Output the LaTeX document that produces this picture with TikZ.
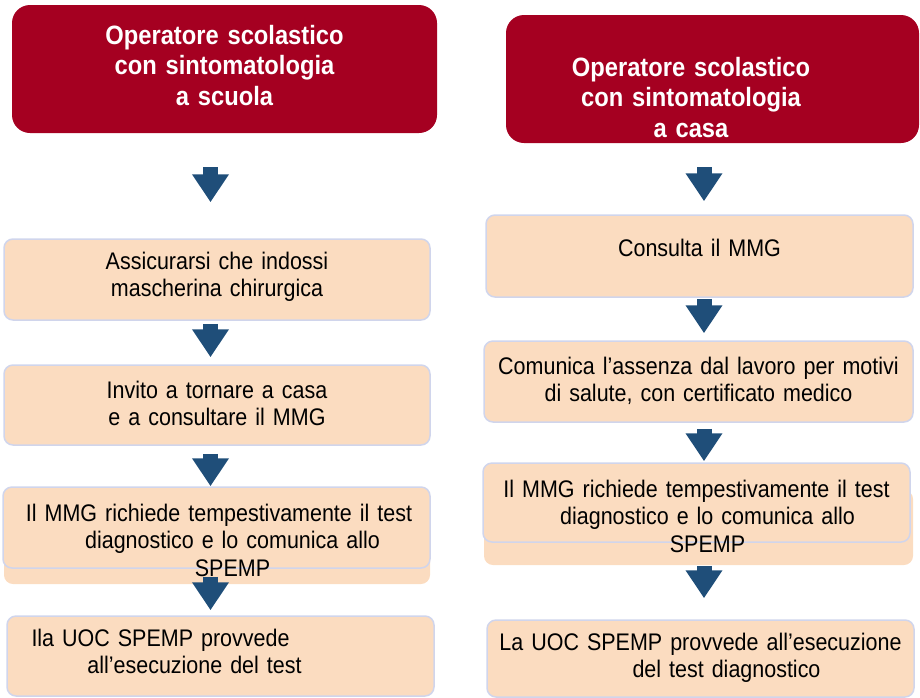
\documentclass[tikz,border=0pt]{standalone}
\usepackage{fontspec}
\setmainfont{Liberation Sans}[FakeStretch=0.895]
\usetikzlibrary{arrows.meta}

\definecolor{headred}{HTML}{A50021}
\definecolor{flowblue}{HTML}{1F4E79}
\definecolor{boxfill}{HTML}{FBDCC0}
\definecolor{boxline}{HTML}{D0D5EC}

\begin{document}
\begin{tikzpicture}[x=1pt, y=-1pt,
    head/.style = {fill=headred, text=white, rounded corners=18pt,
      font=\bfseries\fontsize{26.5}{30.5}\selectfont, align=center,
      inner xsep=2pt, inner ysep=0pt, text height=0pt},
    stepbox/.style = {fill=boxfill, draw=boxline, line width=1.5pt,
      rounded corners=9pt, font=\fontsize{24}{27.5}\selectfont,
      align=center, inner xsep=2pt, inner ysep=0pt, text height=0pt},
    backbox/.style = {fill=boxfill, rounded corners=9pt, inner sep=0pt},
    flow/.style = {flowblue, line width=15pt,
      -{Triangle[width=35pt, length=28pt]}}]
  \useasboundingbox (0,0) rectangle (920,697);

  % left column: a scuola
  \node[head, minimum width=425pt, text width=421pt, minimum height=128pt,
    text depth=50pt] (hL) at (224.5,69)
    {Operatore scolastico\\con sintomatologia\\a scuola};
  \node[stepbox, minimum width=426pt, text width=422pt, minimum height=81pt,
    text depth=21pt] (l1) at (217,279.5)
    {Assicurarsi che indossi\\mascherina chirurgica};
  \node[stepbox, minimum width=426pt, text width=422pt, minimum height=80pt,
    text depth=14pt] (l2) at (217,405)
    {Invito a tornare a casa\\e a consultare il MMG};
  \node[backbox, minimum width=426pt, minimum height=74pt] (l3b) at (217,547) {};
  \node[stepbox, minimum width=427pt, text width=423pt, minimum height=81pt,
    text depth=13pt] (l3) at (216.5,527.5)
    {\hspace*{5pt}Il MMG richiede tempestivamente il test\\
     \hspace*{32pt}diagnostico e lo comunica allo\\
     \hspace*{32pt}SPEMP};
  \node[stepbox, minimum width=427pt, text width=423pt, minimum height=80pt,
    text depth=20pt] (l4) at (220.5,656)
    {Ila UOC SPEMP provvede\hspace*{120pt}\null\\
     all’esecuzione del test\hspace*{52pt}\null};

  % right column: a casa
  \node[head, minimum width=413pt, text width=409pt, minimum height=128pt,
    text depth=6pt] (hR) at (712.5,79)
    {Operatore scolastico\hspace*{43pt}\null\\
     con sintomatologia\hspace*{43pt}\null\\
     a casa\hspace*{43pt}\null};
  \node[stepbox, minimum width=427pt, text width=423pt, minimum height=82pt,
    text depth=-6pt] (r1) at (699.5,256)
    {Consulta il MMG};
  \node[stepbox, minimum width=429pt, text width=425pt, minimum height=81pt,
    text depth=15pt] (r2) at (698.5,381.5)
    {Comunica l’assenza dal lavoro per motivi\\di salute, con certificato medico};
  \node[backbox, minimum width=429pt, minimum height=75pt] (r3b) at (698.5,527.5) {};
  \node[stepbox, minimum width=427pt, text width=423pt, minimum height=79pt,
    text depth=11pt] (r3) at (696.5,502.5)
    {Il MMG richiede tempestivamente il test\\
     \hspace*{22pt}diagnostico e lo comunica allo\\
     \hspace*{22pt}SPEMP};
  \node[stepbox, minimum width=427pt, text width=423pt, minimum height=77pt,
    text depth=17pt] (r4) at (700.5,658.5)
    {La UOC SPEMP provvede all’esecuzione\\
     \hspace*{52pt}del test diagnostico};

  % block arrows
  \coordinate (axL) at (210.5,0);
  \coordinate (axR) at (704,0);
  \draw[flow, shorten <=34pt, shorten >=36pt] (hL.south -| axL) -- (l1.north -| axL);
  \draw[flow, shorten <=3pt, shorten >=7pt] (l1.south -| axL) -- (l2.north -| axL);
  \draw[flow, shorten <=8pt] (l2.south -| axL) -- (l3.north -| axL);
  \draw[flow, shorten <=8pt, shorten >=5pt] (l3.south -| axL) -- (l4.north -| axL);
  \draw[flow, shorten <=24pt, shorten >=13pt] (hR.south -| axR) -- (r1.north -| axR);
  \draw[flow, shorten <=1pt, shorten >=7pt] (r1.south -| axR) -- (r2.north -| axR);
  \draw[flow, shorten <=6pt, shorten >=1pt] (r2.south -| axR) -- (r3.north -| axR);
  \draw[flow, shorten <=23pt, shorten >=21pt] (r3.south -| axR) -- (r4.north -| axR);
\end{tikzpicture}
\end{document}
